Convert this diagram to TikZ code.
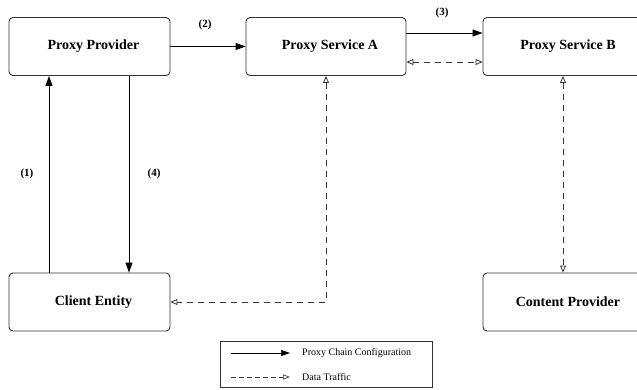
\documentclass[tikz,border=0pt]{standalone}
\usepackage{fontspec}
\setmainfont{Liberation Serif}
\usetikzlibrary{arrows.meta}
\begin{document}
\begin{tikzpicture}[x=1pt,y=-1pt,
  box/.style={draw=black!80, line width=0.9pt, rounded corners=4pt, minimum width=160pt, minimum height=58pt, inner sep=0pt, font=\fontsize{14}{16}\selectfont\bfseries},
  conf/.style={line width=0.9pt, -{Triangle[length=10pt,width=7pt]}},
  data/.style={line width=0.8pt, black!80, dash pattern=on 6pt off 5pt, {Triangle[open,length=7pt,width=6pt]}-{Triangle[open,length=7pt,width=6pt]}},
  lbl/.style={font=\fontsize{11}{12}\selectfont\bfseries, inner sep=0pt},
  legtext/.style={font=\fontsize{10}{12}\selectfont, inner sep=0pt, anchor=west}
]
\useasboundingbox (0,0) rectangle (637,389);
\node[box, minimum width=161pt] (pp) at (89.5,46.5) {\hspace*{8pt}Proxy Provider};
\node[box] (sa) at (326,46.5) {\hspace*{8pt}Proxy Service A};
\node[box] (sb) at (563,46.5) {\hspace*{10pt}Proxy Service B};
\node[box, minimum width=161pt] (ce) at (89.5,302) {\hspace*{8pt}Client Entity};
\node[box] (cp) at (563,302) {\hspace*{10pt}Content Provider};

\draw[conf] ([xshift=-40.5pt]ce.north) -- ([xshift=-40.5pt]pp.south);
\draw[conf] ([xshift=39.5pt]pp.south) -- ([xshift=39.5pt]ce.north);
\draw[conf] (pp.east) -- (sa.west);
\draw[conf] ([yshift=13.5pt]sa.east) -- ([yshift=13.5pt]sb.west);
\draw[data] ([yshift=-15.5pt]sa.east) -- ([yshift=-15.5pt]sb.west);
\draw[data] (sa.south) |- (ce.east);
\draw[data] (sb.south) -- (cp.north);

\node[lbl] (l1) at (27,174) {(1)};
\node[lbl] (l4) at (154,174) {(4)};
\node[lbl] (l2) at (205,25) {(2)};
\node[lbl] (l3) at (442,13) {(3)};

\node[draw=black!80, line width=0.8pt, minimum width=212pt, minimum height=46pt, inner sep=0pt] (leg) at (326,364) {};
\coordinate (a1) at (231,353);
\coordinate (b1) at (290,353);
\coordinate (a2) at (231,377);
\coordinate (b2) at (290,377);
\draw[line width=0.7pt, -{Triangle[length=9pt,width=6pt]}] (a1) -- (b1);
\draw[line width=0.6pt, black!80, dash pattern=on 4.5pt off 3.5pt, -{Triangle[open,length=7pt,width=5pt]}] (a2) -- (b2);
\node[legtext] (t1) at (302,353) {Proxy Chain Configuration};
\node[legtext] (t2) at (302,377) {Data Traffic};
\end{tikzpicture}
\end{document}
